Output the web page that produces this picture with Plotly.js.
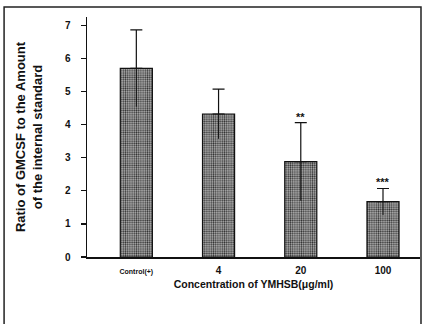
<!DOCTYPE html>
<html><head><meta charset="utf-8">
<script src="https://cdn.plot.ly/plotly-3.0.1.min.js"></script>
<style>html,body{margin:0;padding:0;background:#fff;}#c{width:422px;height:324px;}</style>
</head><body><div id="c"></div>
<script>
const categories = ['Control(+)', '4', '20', '100'];
const tickLabels = ['<span style="font-size:7px">Control(+)</span>', '4', '20', '100'];
const means = [5.7, 4.32, 2.88, 1.67];
const errors = [1.16, 0.75, 1.18, 0.4];
const signif = ['', '', '**', '***'];
const yTicks = [0, 1, 2, 3, 4, 5, 6, 7];

const zeros = means.map(() => 0);
const traces = [
  {
    type: 'bar', x: categories, y: means, width: 0.39,
    marker: {
      color: '#8a8a8a',
      line: {color: '#111', width: 1.2},
      pattern: {shape: '.', bgcolor: '#b5b5b5', fgcolor: '#333', size: 2.2, solidity: 0.45}
    },
    error_y: {type: 'data', symmetric: false, array: errors, arrayminus: zeros, color: '#111', thickness: 1.2, width: 6},
    hoverinfo: 'skip'
  },
  {
    type: 'scatter', mode: 'none', x: categories, y: means,
    error_y: {type: 'data', symmetric: false, array: zeros, arrayminus: errors, color: '#111', thickness: 1, width: 0},
    hoverinfo: 'skip'
  }
];

const annotations = [];
categories.forEach((c, i) => {
  if (signif[i]) annotations.push({
    xref: 'x', yref: 'y', x: i, y: means[i] + errors[i], text: signif[i], showarrow: false,
    yanchor: 'bottom', yshift: -2, font: {family: 'Liberation Sans', size: 11, color: '#111', weight: 'bold'}
  });
});

const frame = {type: 'path', xref: 'paper', yref: 'paper',
  path: 'M -0.249,-0.3 L -0.249,1.042 L 1.003,1.042 L 1.003,-0.3',
  line: {color: '#222', width: 1.5}};

const layout = {
  width: 422, height: 324,
  margin: {l: 87, r: 2, t: 17, b: 67},
  paper_bgcolor: '#fff', plot_bgcolor: '#fff',
  showlegend: false,
  font: {family: 'Liberation Sans', color: '#111'},
  xaxis: {
    type: 'category', range: [-0.6, 3.45],
    tickvals: categories, ticktext: tickLabels,
    showline: true, linecolor: '#111', linewidth: 1.5, ticks: '',
    showgrid: false, zeroline: false,
    tickfont: {size: 10, weight: 'bold'}, ticklabelstandoff: 3,
    title: {text: 'Concentration of YMHSB(μg/ml)', font: {size: 10.5, weight: 'bold'}, standoff: 6}
  },
  yaxis: {
    range: [0, 7.25], tickvals: yTicks,
    showline: true, linecolor: '#111', linewidth: 1.5,
    ticks: 'outside', ticklen: 5, tickcolor: '#111', tickwidth: 1.2,
    showgrid: false, zeroline: false,
    tickfont: {size: 10, weight: 'bold'}, ticklabelstandoff: 8,
    title: {text: 'Ratio of GMCSF to the Amount<br>of the internal standard', font: {size: 13, weight: 'bold'}, standoff: 19}
  },
  annotations: annotations,
  shapes: [frame]
};

Plotly.newPlot('c', traces, layout, {displayModeBar: false, staticPlot: true});
</script></body></html>
